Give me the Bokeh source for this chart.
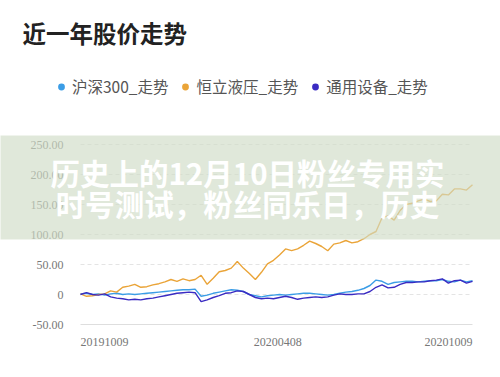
from bokeh.plotting import figure
from bokeh.models import (Range1d, FixedTicker, Legend, LegendItem, Label, ColumnDataSource)
from bokeh.embed import file_html
from bokeh.resources import INLINE

# ---------------- data (% change) ----------------
hs300 = [1, 2, 0, 1, -1, 1, 2, 0, 1, 0, 1, 2, 3, 4, 5, 6, 7, 8, 8, 9,
         -3, -1, 2, 4, 6, 8, 7, 5, 0, -2, -4, -2, -1, 0, -1, 0, 1, 2, 2, 1,
         0, -1, 0, 2, 4, 5, 7, 10, 15, 24, 22, 17, 20, 21, 22, 22, 21, 22, 23, 23,
         25, 22, 21, 24, 21, 23]
hengli = [1, -3, -2, 0, 1, 6, 4, 12, 14, 17, 12, 13, 16, 18, 21, 25, 22, 26, 23, 25,
          32, 17, 27, 38, 40, 44, 55, 44, 35, 25, 37, 51, 57, 66, 76, 73, 76, 82, 89, 85,
          80, 73, 84, 86, 90, 86, 88, 93, 100, 105, 128, 131, 124, 140, 150, 152, 156, 159, 155, 156,
          167, 166, 176, 176, 174, 183]
tongyong = [0, 3, 0, -1, 1, -4, -6, -7, -9, -8, -9, -7, -6, -4, -2, 0, 2, 3, 4, 3,
            -12, -9, -5, -2, 2, 3, 6, 5, 0, -5, -7, -6, -7, -5, -3, -5, -8, -6, -5, -4,
            -5, -4, -1, 1, 0, 0, 1, 1, 5, 12, 16, 11, 12, 17, 20, 20, 21, 21, 23, 24,
            26, 19, 23, 24, 19, 22]
day_idx = list(range(len(hs300)))

series_names = ["沪深300_走势", "恒立液压_走势", "通用设备_走势"]
series_colors = ["#3b9de6", "#eaa438", "#3a2bc2"]

x_tick_idx = [4, 32.7, 61]
x_tick_labels = ["20191009", "20200408", "20201009"]
y_ticks = [-50, 0, 50, 100, 150, 200, 250]
y_tick_labels = ["-50.00", "0", "50.00", "100.00", "150.00", "200.00", "250.00"]

title_text = "近一年股价走势"
banner_text = "历史上的12月10日粉丝专用实\n时号测试，粉丝同乐日，历史"

# ---------------- layout (pixels) ----------------
W, H = 500, 377
plot_l, plot_r, plot_t, plot_b = 80, 472, 144, 324   # the chart area inside the page
y_lo, y_hi = y_ticks[0], y_ticks[-1]
x_lo, x_hi = day_idx[0], day_idx[-1]
px_x = (plot_r - plot_l) / (x_hi - x_lo)
px_y = (plot_b - plot_t) / (y_hi - y_lo)

# the frame covers the whole page, so banner / title / legend are never clipped
p = figure(width=W, height=H, output_backend="svg", toolbar_location=None,
           x_range=Range1d(x_lo - plot_l / px_x, x_hi + (W - plot_r) / px_x),
           y_range=Range1d(y_lo - (H - plot_b) / px_y, y_hi + plot_t / px_y),
           min_border_left=0, min_border_right=0, min_border_top=0, min_border_bottom=0)
p.outline_line_color = None
p.background_fill_color = "white"
p.border_fill_color = "white"
p.xgrid.grid_line_color = None
p.ygrid.grid_line_color = None

# grid lines limited to the data extent
grid_y = y_ticks[1:]
p.segment(x0=[x_lo] * len(grid_y), x1=[x_hi] * len(grid_y), y0=grid_y, y1=grid_y,
          line_color="#e4e4e4", line_width=1, line_dash="4 3")
p.segment(x0=[x_lo], x1=[x_hi], y0=[y_lo], y1=[y_lo], line_color="#dedede", line_width=1)

src = ColumnDataSource(dict(x=day_idx, a=hs300, b=hengli, c=tongyong))
cols = ["a", "b", "c"]
dot_renderers = []
for col, color in zip(cols, series_colors):
    p.line("x", col, source=src, line_color=color, line_width=1.4)
    # zero-size markers: invisible on the chart, round dots in the legend
    dot_renderers.append(p.scatter("x", col, source=src, marker="circle", size=0,
                                   fill_color=color, line_color=None))

# axes (labels pulled into the page with negative standoffs)
serif = "Liberation Serif"
p.xaxis.ticker = FixedTicker(ticks=x_tick_idx)
p.xaxis.major_label_overrides = {t: l for t, l in zip(x_tick_idx, x_tick_labels)}
p.yaxis.ticker = FixedTicker(ticks=y_ticks)
p.yaxis.major_label_overrides = {t: l for t, l in zip(y_ticks, y_tick_labels)}
for ax in (p.xaxis, p.yaxis):
    ax.axis_line_color = None
    ax.major_tick_line_color = None
    ax.minor_tick_line_color = None
    ax.major_tick_out = 0
    ax.major_tick_in = 0
    ax.major_label_text_font = serif
    ax.major_label_text_font_size = "12px"
    ax.major_label_text_color = "#777777"
p.yaxis.major_label_standoff = -(plot_l - 17)
p.xaxis.major_label_standoff = -(H - plot_b - 13)

# legend with round markers
legend_items = [LegendItem(label=name, renderers=[r])
                for name, r in zip(series_names, dot_renderers)]
legend = Legend(items=legend_items, orientation="horizontal", location=(52, 280),
                background_fill_alpha=0, border_line_color=None, padding=0, margin=0,
                label_text_font="Noto Sans CJK SC", label_text_font_size="15.5px",
                label_text_color="#555555", glyph_width=18, glyph_height=17,
                label_height=17, label_standoff=2, spacing=8)
p.add_layout(legend)

# title
p.add_layout(Label(x=22, y=32, x_units="canvas", y_units="canvas", text=title_text,
                   text_font="Noto Sans CJK SC", text_font_style="bold",
                   text_font_size="23.5px", text_color="#222222",
                   text_baseline="middle", text_align="left"))

# translucent banner with white text
p.add_layout(Label(x=247, y=187, x_units="canvas", y_units="canvas", text=banner_text,
                   text_font="Noto Sans CJK SC", text_font_style="bold",
                   text_font_size="29.5px", text_color="white", text_line_height=0.76,
                   text_baseline="middle", text_align="center",
                   background_fill_color="#cfdcc6", background_fill_alpha=0.65,
                   padding=(90, 15), level="overlay"))

open("out.html", "w").write(file_html(p, INLINE))
